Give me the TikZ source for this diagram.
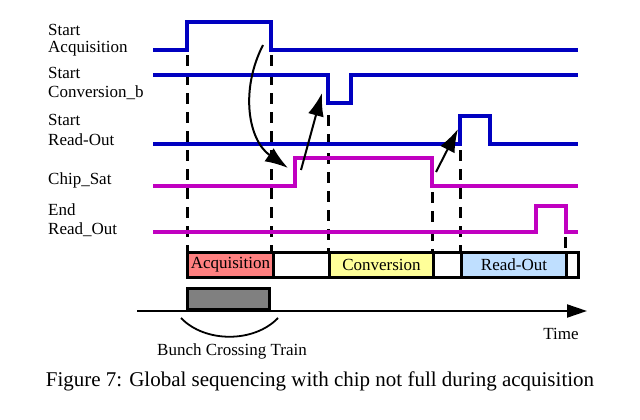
\documentclass[tikz,border=0pt]{standalone}
\usepackage{fontspec}
\setmainfont{Liberation Serif}
\usetikzlibrary{arrows.meta}
\definecolor{sigblue}{RGB}{0,0,192}
\definecolor{sigmag}{RGB}{192,0,192}
\definecolor{acqred}{RGB}{255,128,128}
\definecolor{convyel}{RGB}{255,255,153}
\definecolor{rdblue}{RGB}{191,223,255}
\begin{document}
\begin{tikzpicture}[x=1pt,y=-1pt,
  lbl/.style={anchor=west,inner sep=0pt,font=\fontsize{17}{19}\selectfont},
  bsig/.style={line width=4pt,sigblue,line join=miter},
  msig/.style={line width=4pt,sigmag,line join=miter},
  dashln/.style={line width=3pt,dash pattern=on 11pt off 8pt},
  phase/.style={draw=black,line width=3pt,minimum height=25pt,inner sep=0pt,anchor=west,font=\fontsize{17}{19}\selectfont},
  cause/.style={line width=2pt,-{Latex[length=23pt,width=16pt]}},
  txt/.style={inner sep=0pt,font=\fontsize{17}{19}\selectfont}]
\useasboundingbox (0,0) rectangle (640,420);
% labels
\node[lbl] (l1a) at (48,30) {Start};
\node[lbl] (l1b) at (48,49) {Acquisition};
\node[lbl] (l2a) at (48,73) {Start};
\node[lbl] (l2b) at (48,93) {Conversion\_b};
\node[lbl] (l3a) at (48,120) {Start};
\node[lbl] (l3b) at (48,140) {Read-Out};
\node[lbl] (l4) at (48,180) {Chip\_Sat};
\node[lbl] (l5a) at (48,210) {End};
\node[lbl] (l5b) at (48,230) {Read\_Out};
% dashed lines
\draw[dashln] (187,55) -- (187,253);
\draw[dashln] (271,55) -- (271,253);
\draw[dashln] (328,115) -- (328,253);
\draw[dashln] (432,192) -- (432,253);
\draw[dashln] (460,150) -- (460,253);
\draw[dashln] (565,237) -- (565,253);
% signals
\draw[bsig] (153,50) -- (187,50) -- (187,22) -- (271,22) -- (271,50) -- (578,50);
\draw[bsig] (153,75) -- (328,75) -- (328,103) -- (351,103) -- (351,75) -- (578,75);
\draw[bsig] (153,144) -- (460,144) -- (460,116) -- (490,116) -- (490,144) -- (578,144);
\draw[msig] (153,186) -- (295,186) -- (295,158) -- (432,158) -- (432,186) -- (578,186);
\draw[msig] (153,232) -- (536,232) -- (536,206) -- (566,206) -- (566,232) -- (578,232);
% causal arrows
\coordinate (c1s) at (263,45);
\coordinate (c1e) at (288,168);
\coordinate (c2s) at (301,170);
\coordinate (c2e) at (322,93);
\coordinate (c3s) at (436,172);
\coordinate (c3e) at (458,129);
\draw[cause] (c1s) .. controls (240,90) and (248,140) .. (c1e);
\draw[cause] (c2s) -- (c2e);
\draw[cause] (c3s) -- (c3e);
% phase bar
\node[phase,minimum width=86pt,fill=acqred] (acq) at (186,264.5) {Acquisition};
\node[phase,minimum width=56pt] (gap1) at (272,264.5) {};
\node[phase,minimum width=104pt,fill=convyel] (conv) at (328,264.5) {Conversion};
\node[phase,minimum width=28pt] (gap2) at (432,264.5) {};
\node[phase,minimum width=105pt,fill=rdblue] (rd) at (460,264.5) {Read-Out};
\node[phase,minimum width=12pt] (gap3) at (565,264.5) {};
% bunch crossing train
\node[draw=black,line width=3pt,fill=gray,minimum width=82pt,minimum height=21pt,inner sep=0pt] (bct) at (228,299) {};
% time axis
\coordinate (ax0) at (137,311);
\coordinate (ax1) at (587,311);
\draw[line width=2pt,-{Triangle[length=20pt,width=13pt]}] (ax0) -- (ax1);
\coordinate (arcL) at (181,318);
\coordinate (arcR) at (278,318);
\draw[line width=1.8pt] (arcL) .. controls (205,343) and (254,343) .. (arcR);
\node[txt] (time) at (561,334) {Time};
\node[txt] (bctl) at (232,351) {Bunch Crossing Train};
\node[inner sep=0pt,font=\fontsize{21}{24}\selectfont] (cap) at (320,381) {Figure 7: Global sequencing with chip not full during acquisition};
\end{tikzpicture}
\end{document}
